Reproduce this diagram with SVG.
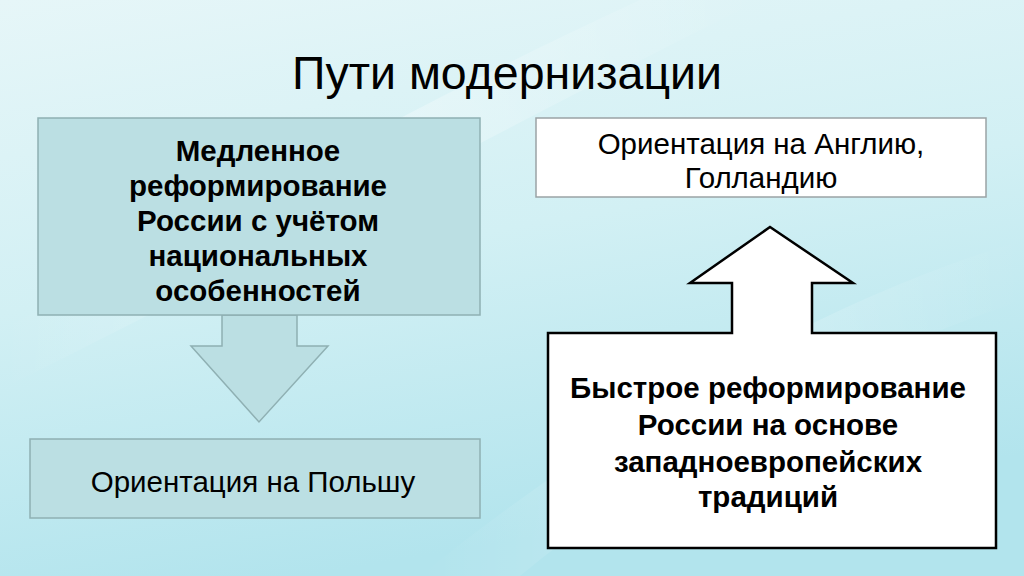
<svg xmlns="http://www.w3.org/2000/svg" width="1024" height="576" viewBox="0 0 1024 576">
<defs>
<linearGradient id="bg" x1="0" y1="0" x2="0.3" y2="1">
<stop offset="0" stop-color="#e6f6f8"/>
<stop offset="0.5" stop-color="#d2f0f4"/>
<stop offset="1" stop-color="#b2e4ed"/>
</linearGradient>
<linearGradient id="sw" x1="0" y1="0" x2="1" y2="0">
<stop offset="0" stop-color="#ffffff" stop-opacity="0"/>
<stop offset="0.5" stop-color="#ffffff" stop-opacity="0.45"/>
<stop offset="1" stop-color="#ffffff" stop-opacity="0"/>
</linearGradient>
<style>
.bold{font-family:"Liberation Sans",Arial,sans-serif;font-weight:bold;font-size:29.5px;fill:#000;text-anchor:middle}
.reg{font-family:"Liberation Sans",Arial,sans-serif;font-size:29.5px;fill:#000;text-anchor:middle}
.title{font-family:"Liberation Sans",Arial,sans-serif;font-size:46.5px;fill:#000;text-anchor:middle}
.teal{fill:#bbdfe3;stroke:#8fb0b3;stroke-width:1.5}
.white{fill:#ffffff;stroke:#9aa3a5;stroke-width:1.5}
.black{fill:#ffffff;stroke:#000;stroke-width:2.5}
</style>
</defs>
<g id="background">
<rect width="1024" height="576" fill="url(#bg)"/>
<path d="M0 330 C200 230 380 120 640 0 L760 0 C520 120 260 260 0 390 Z" fill="url(#sw)" opacity="0.7"/>
<path d="M420 576 C600 430 820 300 1024 240 L1024 300 C840 360 660 460 520 576 Z" fill="url(#sw)" opacity="0.5"/>
</g>
<text class="title" x="507" y="89">Пути модернизации</text>
<g id="connectors">
<polygon class="teal" points="222,315 297,315 297,346 328,346 259,422 191,346 222,346"/>
</g>
<g id="node-slow">
<rect class="teal" x="38" y="118" width="442" height="197"/>
<text class="bold" x="258" y="161">Медленное</text>
<text class="bold" x="258" y="196">реформирование</text>
<text class="bold" x="258" y="231">России с учётом</text>
<text class="bold" x="258" y="266">национальных</text>
<text class="bold" x="258" y="301">особенностей</text>
</g>
<g id="node-poland">
<rect class="teal" x="30" y="439" width="450" height="79"/>
<text class="reg" x="253" y="492">Ориентация на Польшу</text>
</g>
<g id="node-england">
<rect class="white" x="536" y="118" width="450" height="79"/>
<text class="reg" x="761" y="154">Ориентация на Англию,</text>
<text class="reg" x="761" y="188">Голландию</text>
</g>
<g id="node-fast">
<polygon class="black" points="548,333 732,333 732,283 690,283 770,227 853,283 812,283 812,333 996,333 996,548 548,548"/>
<text class="bold" x="768" y="398">Быстрое реформирование</text>
<text class="bold" x="768" y="435">России на основе</text>
<text class="bold" x="768" y="472">западноевропейских</text>
<text class="bold" x="768" y="507">традиций</text>
</g>
</svg>
